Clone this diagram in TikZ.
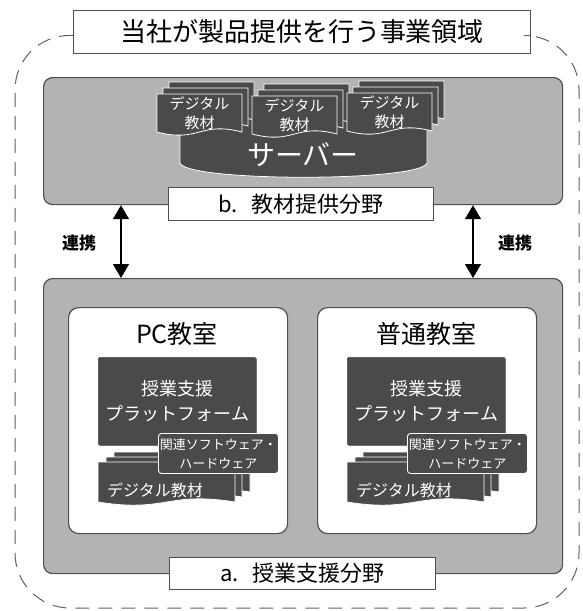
\documentclass[tikz,border=0pt]{standalone}
\usepackage{fontspec}
\newfontfamily\jp{Noto Sans CJK JP}
\usetikzlibrary{arrows.meta,calc}
\definecolor{gboxc}{HTML}{B3B3B3}
\definecolor{darkc}{HTML}{4A4A4A}
\definecolor{bordc}{HTML}{4F4F4F}
\newcommand\mydoc[4]{%
  \filldraw[docst] (#1,#2) -- ({#1+#3},#2) -- ({#1+#3},{#2+#4})
    .. controls ({#1+0.5*#3},{#2+#4-11}) and ({#1+0.5*#3},{#2+#4+11}) .. (#1,{#2+#4}) -- cycle;}
\tikzset{
  graybox/.style={fill=gboxc,draw=bordc,line width=1.2pt,rounded corners=9pt,inner sep=0pt,anchor=north west},
  labelbox/.style={fill=white,draw=bordc,line width=1pt,inner sep=0pt,anchor=north west},
  roombox/.style={fill=white,draw=bordc,line width=1.2pt,rounded corners=10pt,inner sep=0pt,anchor=north west},
  darkbox/.style={fill=darkc,draw=darkc,line width=0.6pt,rounded corners=1.5pt,inner sep=0pt,anchor=north west,text=white,align=center},
  relbox/.style={fill=darkc,draw=white,line width=0.9pt,rounded corners=3pt,inner sep=0pt,anchor=north west,text=white,align=center},
  docst/.style={fill=darkc,draw=white,line width=0.8pt},
  wtext/.style={text=white,inner sep=0pt,align=center},
  outer/.style={draw=bordc!90,line width=1pt,dash pattern=on 14pt off 9pt,rounded corners=55pt},
  link/.style={line width=1.2pt,{Triangle[width=16pt,length=14pt]}-{Triangle[width=16pt,length=14pt]}},
}
\begin{document}
\begin{tikzpicture}[x=1pt,y=-1pt]
\useasboundingbox (0,0) rectangle (582,611);
\jp
% title
\node[labelbox,minimum width=457pt,minimum height=43pt,font=\jp\fontsize{26}{30}\selectfont] (title) at (73,10) {当社が製品提供を行う事業領域};
% outer dashed frame
\draw[outer] ([yshift=-3.5pt]title.west) -- (15,35) -- (15,608) -- (579,608) -- (579,35) -- ([yshift=-3.5pt]title.east);
% upper area
\node[graybox,minimum width=519pt,minimum height=127pt] (upper) at (43,77) {};
\filldraw[fill=darkc,draw=white,line width=0.8pt] (180,112) -- (180,163) .. controls (186,182) and (421,182) .. (427,163) -- (427,112) -- cycle;
\node[wtext,font=\jp\fontsize{28}{30}\selectfont] (server) at (303,155) {サーバー};
% documents on server
\foreach \dx/\dy [count=\i] in {157/94,252/96,347/93}{
  \mydoc{\dx+12}{\dy-12}{85}{38}
  \mydoc{\dx+6}{\dy-6}{85}{38}
  \mydoc{\dx}{\dy}{85}{38}
  \node[wtext,font=\jp\fontsize{15}{19}\selectfont] (doc\i) at ({\dx+42.5},{\dy+19}) {デジタル\\教材};
}
\node[labelbox,minimum width=265pt,minimum height=33pt,font=\jp\fontsize{22}{26}\selectfont] (blab) at (168,187) {b.\hspace{14pt}教材提供分野};
% lower area
\node[graybox,minimum width=519pt,minimum height=295pt] (lower) at (43,278) {};
\node[labelbox,minimum width=266pt,minimum height=32pt,font=\jp\fontsize{22}{26}\selectfont] (alab) at (169,557) {a.\hspace{14pt}授業支援分野};
% links
\draw[link] ([xshift=78pt]upper.south west) -- ([xshift=78pt]lower.north west);
\draw[link] ([xshift=430pt]upper.south west) -- ([xshift=430pt]lower.north west);
\node[font=\jp\bfseries\fontsize{17}{20}\selectfont,inner sep=0pt] (l1) at (79,243) {連携};
\node[font=\jp\bfseries\fontsize{17}{20}\selectfont,inner sep=0pt] (l2) at (515,243) {連携};
% classrooms
\foreach \ox/\name/\ttl [count=\j] in {0/pc/PC教室,249/ord/普通教室}{
  \node[roombox,minimum width=219pt,minimum height=226pt] (\name) at ({68+\ox},307) {};
  \node[inner sep=0pt,font=\jp\fontsize{25}{28}\selectfont] (\name t) at ({177+\ox},334) {\ttl};
  \node[darkbox,minimum width=158pt,minimum height=88pt,font=\jp\fontsize{18}{25}\selectfont] (\name p) at ({98+\ox},357) {授業支援\\プラットフォーム};
  \mydoc{114+\ox}{452}{136}{40}
  \mydoc{106+\ox}{457}{136}{40}
  \mydoc{98+\ox}{462}{137}{40}
  \node[wtext,font=\jp\fontsize{16}{18}\selectfont] (\name d) at ({155+\ox},490) {デジタル教材};
  \node[relbox,minimum width=120pt,minimum height=40pt,font=\jp\fontsize{13}{19}\selectfont] (\name r) at ({158+\ox},433) {関連ソフトウェア・\\ハードウェア};
}
\end{tikzpicture}
\end{document}
